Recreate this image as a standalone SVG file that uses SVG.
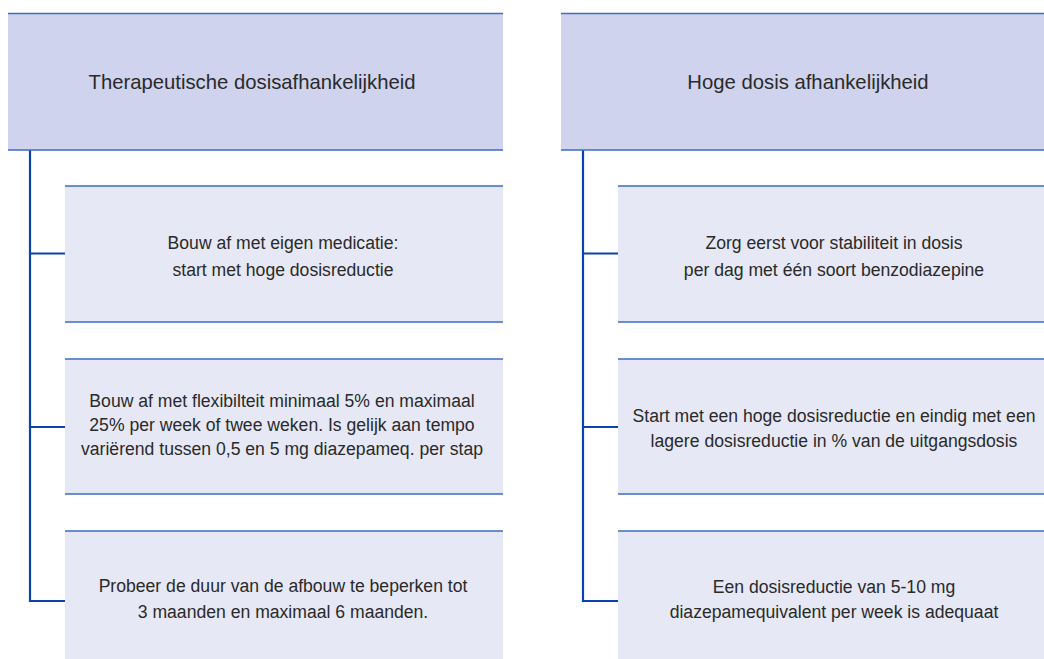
<svg xmlns="http://www.w3.org/2000/svg" width="1044" height="659" viewBox="0 0 1044 659">
<style>
  .hdr { fill: #cfd3ed; }
  .box { fill: #e6e8f5; }
  .edge { stroke: #3d6cc4; stroke-width: 1.5; fill: none; }
  .conn { stroke: #0a43ad; stroke-width: 2.2; fill: none; }
  text { font-family: "Liberation Sans", Arial, sans-serif; fill: #2a2a2a; text-anchor: middle; }
  .ht { font-size: 20.3px; }
  .bt { font-size: 17.6px; }
</style>
<rect width="1044" height="659" fill="#ffffff"/>

<g id="connectors">
  <path class="conn" d="M30 150 V601 H65 M30 253.5 H65 M30 427 H65"/>
  <path class="conn" d="M583 150 V601 H618 M583 253.5 H618 M583 427 H618"/>
</g>

<g id="header-left">
  <rect class="hdr" x="8" y="13.5" width="495" height="136.5"/>
  <path class="edge" d="M8 13.5 H503 M8 150 H503"/>
  <text class="ht" x="252" y="88.5">Therapeutische dosisafhankelijkheid</text>
</g>
<g id="header-right">
  <rect class="hdr" x="561" y="13.5" width="483" height="136.5"/>
  <path class="edge" d="M561 13.5 H1044 M561 150 H1044"/>
  <text class="ht" x="808" y="88.5">Hoge dosis afhankelijkheid</text>
</g>

<g id="left-1">
  <rect class="box" x="65" y="186" width="438" height="136"/>
  <path class="edge" d="M65 186 H503 M65 322 H503"/>
  <text class="bt" x="283" y="249">Bouw af met eigen medicatie:</text>
  <text class="bt" x="283" y="276">start met hoge dosisreductie</text>
</g>
<g id="left-2">
  <rect class="box" x="65" y="359" width="438" height="135"/>
  <path class="edge" d="M65 359 H503 M65 494 H503"/>
  <text class="bt" x="282" y="407">Bouw af met flexibilteit minimaal 5% en maximaal</text>
  <text class="bt" x="282" y="431">25% per week of twee weken. Is gelijk aan tempo</text>
  <text class="bt" x="282" y="455">variërend tussen 0,5 en 5 mg diazepameq. per stap</text>
</g>
<g id="left-3">
  <rect class="box" x="65" y="531" width="438" height="140"/>
  <path class="edge" d="M65 531 H503"/>
  <text class="bt" x="283" y="592">Probeer de duur van de afbouw te beperken tot</text>
  <text class="bt" x="283" y="618">3 maanden en maximaal 6 maanden.</text>
</g>

<g id="right-1">
  <rect class="box" x="618" y="186" width="426" height="136"/>
  <path class="edge" d="M618 186 H1044 M618 322 H1044"/>
  <text class="bt" x="834" y="249">Zorg eerst voor stabiliteit in dosis</text>
  <text class="bt" x="834" y="276">per dag met één soort benzodiazepine</text>
</g>
<g id="right-2">
  <rect class="box" x="618" y="359" width="426" height="135"/>
  <path class="edge" d="M618 359 H1044 M618 494 H1044"/>
  <text class="bt" x="834" y="422">Start met een hoge dosisreductie en eindig met een</text>
  <text class="bt" x="834" y="447">lagere dosisreductie in % van de uitgangsdosis</text>
</g>
<g id="right-3">
  <rect class="box" x="618" y="531" width="426" height="140"/>
  <path class="edge" d="M618 531 H1044"/>
  <text class="bt" x="834" y="593">Een dosisreductie van 5-10 mg</text>
  <text class="bt" x="834" y="618">diazepamequivalent per week is adequaat</text>
</g>
</svg>
